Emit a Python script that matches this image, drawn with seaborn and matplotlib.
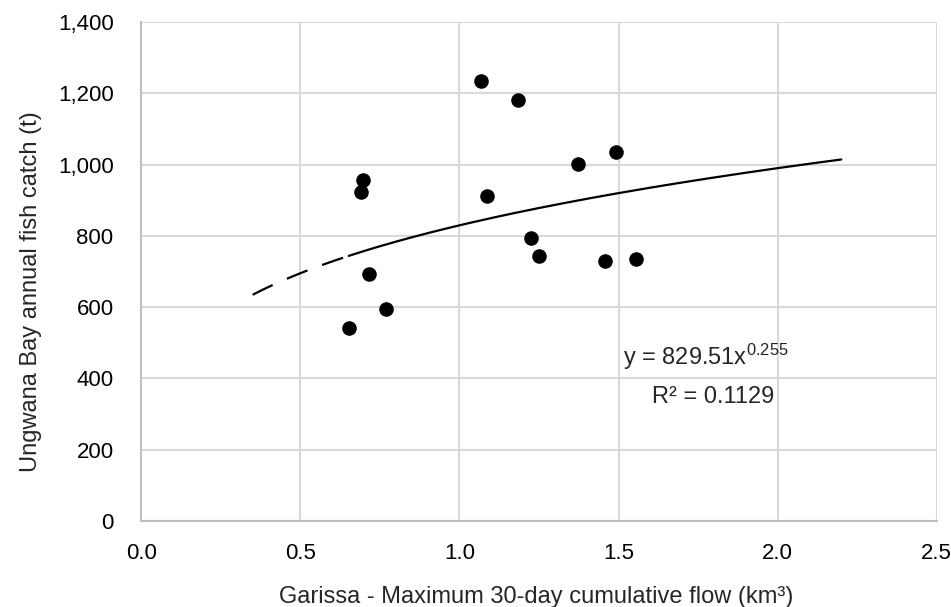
import numpy as np
import pandas as pd
import matplotlib
matplotlib.use("Agg")
import matplotlib.pyplot as plt
import seaborn as sns

# Data
flow_km3 = [0.697, 0.690, 0.717, 0.768, 0.652, 1.068, 1.185, 1.087,
            1.373, 1.491, 1.224, 1.250, 1.458, 1.555]
catch_t = [957, 922, 692, 594, 542, 1234, 1182, 911,
           1001, 1034, 795, 743, 730, 735]

# Power trendline parameters (from chart label)
coef_a = 829.51
coef_b = 0.255
r2 = 0.1129
backcast_start = 0.35
forecast_end = 2.2

x_ticks = [0.0, 0.5, 1.0, 1.5, 2.0, 2.5]
y_ticks = [0, 200, 400, 600, 800, 1000, 1200, 1400]

sns.set_theme(style="white")
plt.rcParams['font.family'] = ['Liberation Sans', 'DejaVu Sans']
plt.rcParams['mathtext.fontset'] = 'custom'
plt.rcParams['mathtext.rm'] = 'Liberation Sans'
plt.rcParams['mathtext.it'] = 'Liberation Sans'

fig = plt.figure(figsize=(9.51, 6.07), dpi=100)
ax = fig.add_axes([0.1486, 0.1417, 0.985 - 0.1486, 0.9638 - 0.1417])

df = pd.DataFrame({"flow": flow_km3, "catch": catch_t})

# trendline
xmin = min(flow_km3)
xs_solid = np.linspace(xmin, forecast_end, 200)
xs_dash = np.linspace(backcast_start, xmin, 50)
trend_solid = pd.DataFrame({"x": xs_solid, "y": coef_a * xs_solid ** coef_b})
trend_dash = pd.DataFrame({"x": xs_dash, "y": coef_a * xs_dash ** coef_b})
sns.lineplot(data=trend_solid, x="x", y="y", ax=ax, color="black", lw=1.6, zorder=3)
sns.lineplot(data=trend_dash, x="x", y="y", ax=ax, color="black", lw=1.6, zorder=3)
ax.lines[-1].set_dashes((10, 7))

sns.scatterplot(data=df, x="flow", y="catch", ax=ax, color="black", s=110,
                edgecolor="black", linewidth=0, zorder=4)

ax.set_xlim(0, 2.5)
ax.set_ylim(0, 1400)
ax.set_xticks(x_ticks)
ax.set_yticks(y_ticks)
ax.set_xticklabels([f"{v:.1f}" for v in x_ticks])
ax.set_yticklabels([f"{v:,}" for v in y_ticks])
ax.tick_params(axis='both', labelsize=16, colors="#000000", length=0)
ax.tick_params(axis='x', pad=16)
ax.tick_params(axis='y', pad=20)

ax.grid(True, color="#d9d9d9", lw=1.5)
ax.set_axisbelow(True)
for s in ["top", "right"]:
    ax.spines[s].set_visible(False)
for s in ["left", "bottom"]:
    ax.spines[s].set_color("#bfbfbf")
    ax.spines[s].set_linewidth(1.5)

ax.set_xlabel("Garissa - Maximum 30-day cumulative flow (km³)", fontsize=17)
ax.set_ylabel("Ungwana Bay annual fish catch (t)", fontsize=17)
ax.xaxis.set_label_coords(0.497, -0.130)
ax.yaxis.set_label_coords(-0.125, 0.46)

ax.text(1.514, 460, r"y = 829.51x$^{0.255}$", fontsize=17, ha="left", va="center")
ax.text(1.605, 348, f"R² = {r2}", fontsize=17, ha="left", va="center")

fig.savefig("out.png", dpi=100, facecolor="white")
